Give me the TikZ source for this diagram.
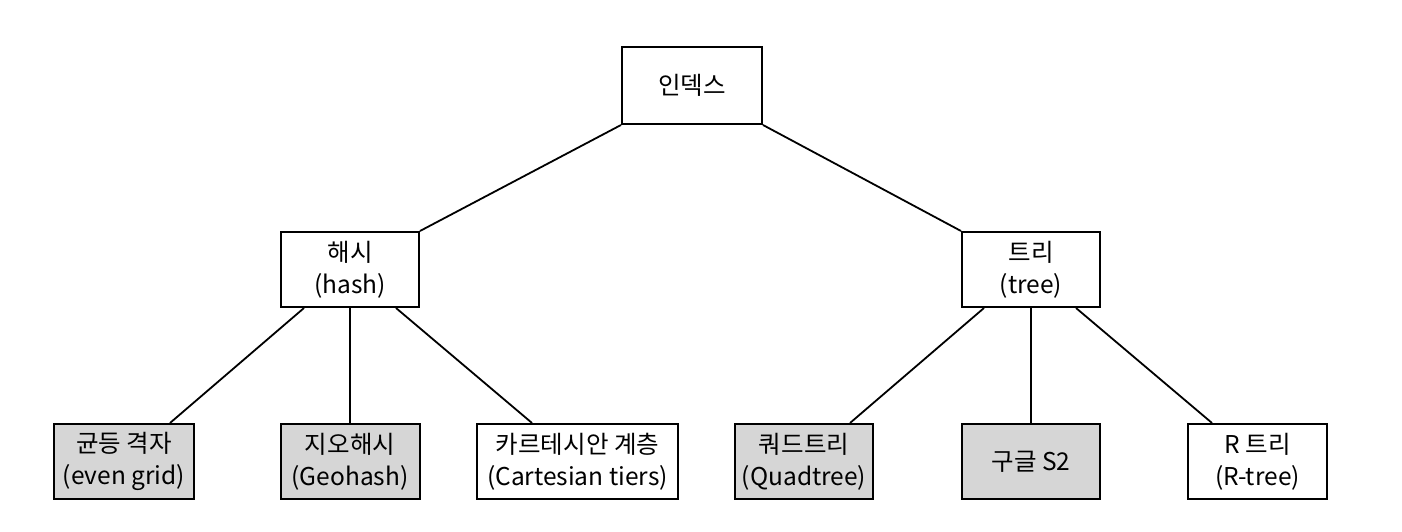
\documentclass[tikz,border=0pt]{standalone}
\usepackage{fontspec}
\setmainfont{Noto Sans CJK KR}
\begin{document}
\begin{tikzpicture}[x=1pt,y=-1pt,
  box/.style={draw=black, line width=2pt, fill=white, inner sep=0pt, align=center,
    font=\fontsize{24.5}{32}\selectfont},
  graybox/.style={box, fill=boxgray},
  link/.style={draw=black, line width=1.8pt}]
\definecolor{boxgray}{HTML}{D6D6D6}
\useasboundingbox (0,0) rectangle (1402,532);
\node[box, minimum width=140pt, minimum height=77pt] (root) at (692,85.5) {인덱스};
\node[box, minimum width=138pt, minimum height=75pt] (hash) at (350,269.5) {해시\\(hash)};
\node[box, minimum width=138pt, minimum height=75pt] (tree) at (1031,269.5) {트리\\(tree)};
\node[graybox, minimum width=140pt, minimum height=75pt] (even) at (124,461.5) {균등 격자\\(even grid)};
\node[graybox, minimum width=139pt, minimum height=75pt] (geo) at (350,461.5) {지오해시\\(Geohash)};
\node[box, minimum width=201pt, minimum height=75pt] (cart) at (577.5,461.5) {카르테시안 계층\\(Cartesian tiers)};
\node[graybox, minimum width=138pt, minimum height=75pt] (quad) at (804,461.5) {쿼드트리\\(Quadtree)};
\node[graybox, minimum width=138pt, minimum height=75pt] (s2) at (1031,461.5) {구글 S2};
\node[box, minimum width=139pt, minimum height=75pt] (rtree) at (1257.5,461.5) {R 트리\\(R-tree)};
\draw[link] (root.south west) -- (hash.north east);
\draw[link] (root.south east) -- (tree.north west);
\draw[link] ([xshift=-46pt]hash.south) -- ([xshift=46pt]even.north);
\draw[link] (hash.south) -- (geo.north);
\draw[link] ([xshift=46pt]hash.south) -- ([xshift=-45.5pt]cart.north);
\draw[link] ([xshift=-47pt]tree.south) -- ([xshift=46pt]quad.north);
\draw[link] (tree.south) -- (s2.north);
\draw[link] ([xshift=45pt]tree.south) -- ([xshift=-45.5pt]rtree.north);
\end{tikzpicture}
\end{document}
